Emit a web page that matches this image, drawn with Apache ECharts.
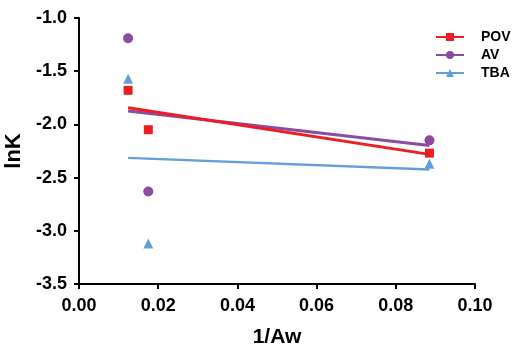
<!DOCTYPE html>
<html>
<head>
<meta charset="utf-8">
<script src="https://cdn.jsdelivr.net/npm/echarts@6/dist/echarts.min.js"></script>
<style>
html,body{margin:0;padding:0;background:#fff;}
#chart{width:516px;height:354px;}
</style>
</head>
<body>
<div id="chart"></div>
<script>
const seriesNames = ['POV', 'AV', 'TBA'];
const xValues = [0.0124, 0.0175, 0.0885];
const povValues = [-1.68, -2.05, -2.27];
const avValues = [-1.19, -2.63, -2.15];
const tbaValues = [-1.57, -3.12, -2.37];
const colors = ['#ED1D24', '#8B4BA3', '#659FDB'];
const symbols = ['rect', 'circle', 'triangle'];
const xTicks = { min: 0, max: 0.1, interval: 0.02 };
const yTicks = { min: -3.5, max: -1.0, interval: 0.5 };

function regression(xs, ys) {
  const n = xs.length;
  const mx = xs.reduce((a, b) => a + b, 0) / n;
  const my = ys.reduce((a, b) => a + b, 0) / n;
  let sxy = 0, sxx = 0;
  for (let i = 0; i < n; i++) {
    sxy += (xs[i] - mx) * (ys[i] - my);
    sxx += (xs[i] - mx) * (xs[i] - mx);
  }
  const slope = sxy / sxx;
  const x0 = Math.min(...xs), x1 = Math.max(...xs);
  return [[x0, my + slope * (x0 - mx)], [x1, my + slope * (x1 - mx)]];
}

const allValues = [povValues, avValues, tbaValues];
const lineWidths = [3, 3, 2.5];
const lineZ = [4, 3, 2];
const symbolSizes = [9, 10, 10];
const series = [];
seriesNames.forEach((name, i) => {
  series.push({
    name: name,
    type: 'line',
    data: regression(xValues, allValues[i]),
    showSymbol: false,
    symbol: symbols[i],
    lineStyle: { color: colors[i], width: lineWidths[i] },
    itemStyle: { color: colors[i] },
    z: lineZ[i],
    silent: true
  });
});
seriesNames.forEach((name, i) => {
  series.push({
    name: name,
    type: 'scatter',
    data: xValues.map((x, j) => [x, allValues[i][j]]),
    symbol: symbols[i],
    symbolSize: symbolSizes[i],
    itemStyle: { color: colors[i], opacity: 1 },
    z: 5
  });
});

const chart = echarts.init(document.getElementById('chart'), null, { renderer: 'canvas' });
const font = 'Liberation Sans, Arial, sans-serif';
chart.setOption({
  animation: false,
  backgroundColor: '#fff',
  grid: { left: 79, right: 41, top: 18, bottom: 70, containLabel: false, outerBoundsMode: 'none' },
  legend: {
    orient: 'vertical',
    left: 430,
    top: 24,
    itemWidth: 28,
    itemHeight: 10,
    itemGap: 2,
    data: seriesNames,
    textStyle: { fontFamily: font, fontWeight: 'bold', fontSize: 14, lineHeight: 16, color: '#000', padding: [0, 0, 0, 12] }
  },
  xAxis: {
    type: 'value',
    min: xTicks.min, max: xTicks.max, interval: xTicks.interval,
    name: '1/Aw',
    nameLocation: 'middle',
    nameGap: 43,
    nameTextStyle: { fontFamily: font, fontWeight: 'bold', fontSize: 21, color: '#000' },
    axisLine: { show: true, onZero: false, lineStyle: { color: '#000', width: 2 } },
    axisTick: { show: true, length: 5, lineStyle: { color: '#000', width: 2 } },
    axisLabel: { margin: 13, fontFamily: font, fontWeight: 'bold', fontSize: 18, color: '#000', formatter: v => v.toFixed(2) },
    splitLine: { show: false }
  },
  yAxis: {
    type: 'value',
    min: yTicks.min, max: yTicks.max, interval: yTicks.interval,
    name: 'lnK',
    nameLocation: 'middle',
    nameGap: 53,
    nameRotate: 90,
    nameTextStyle: { fontFamily: font, fontWeight: 'bold', fontSize: 22, color: '#000' },
    axisLine: { show: true, onZero: false, lineStyle: { color: '#000', width: 2 } },
    axisTick: { show: true, length: 5, lineStyle: { color: '#000', width: 2 } },
    axisLabel: { margin: 12, fontFamily: font, fontWeight: 'bold', fontSize: 18, color: '#000', formatter: v => v.toFixed(1) },
    splitLine: { show: false }
  },
  series: series
});
</script>
</body>
</html>
